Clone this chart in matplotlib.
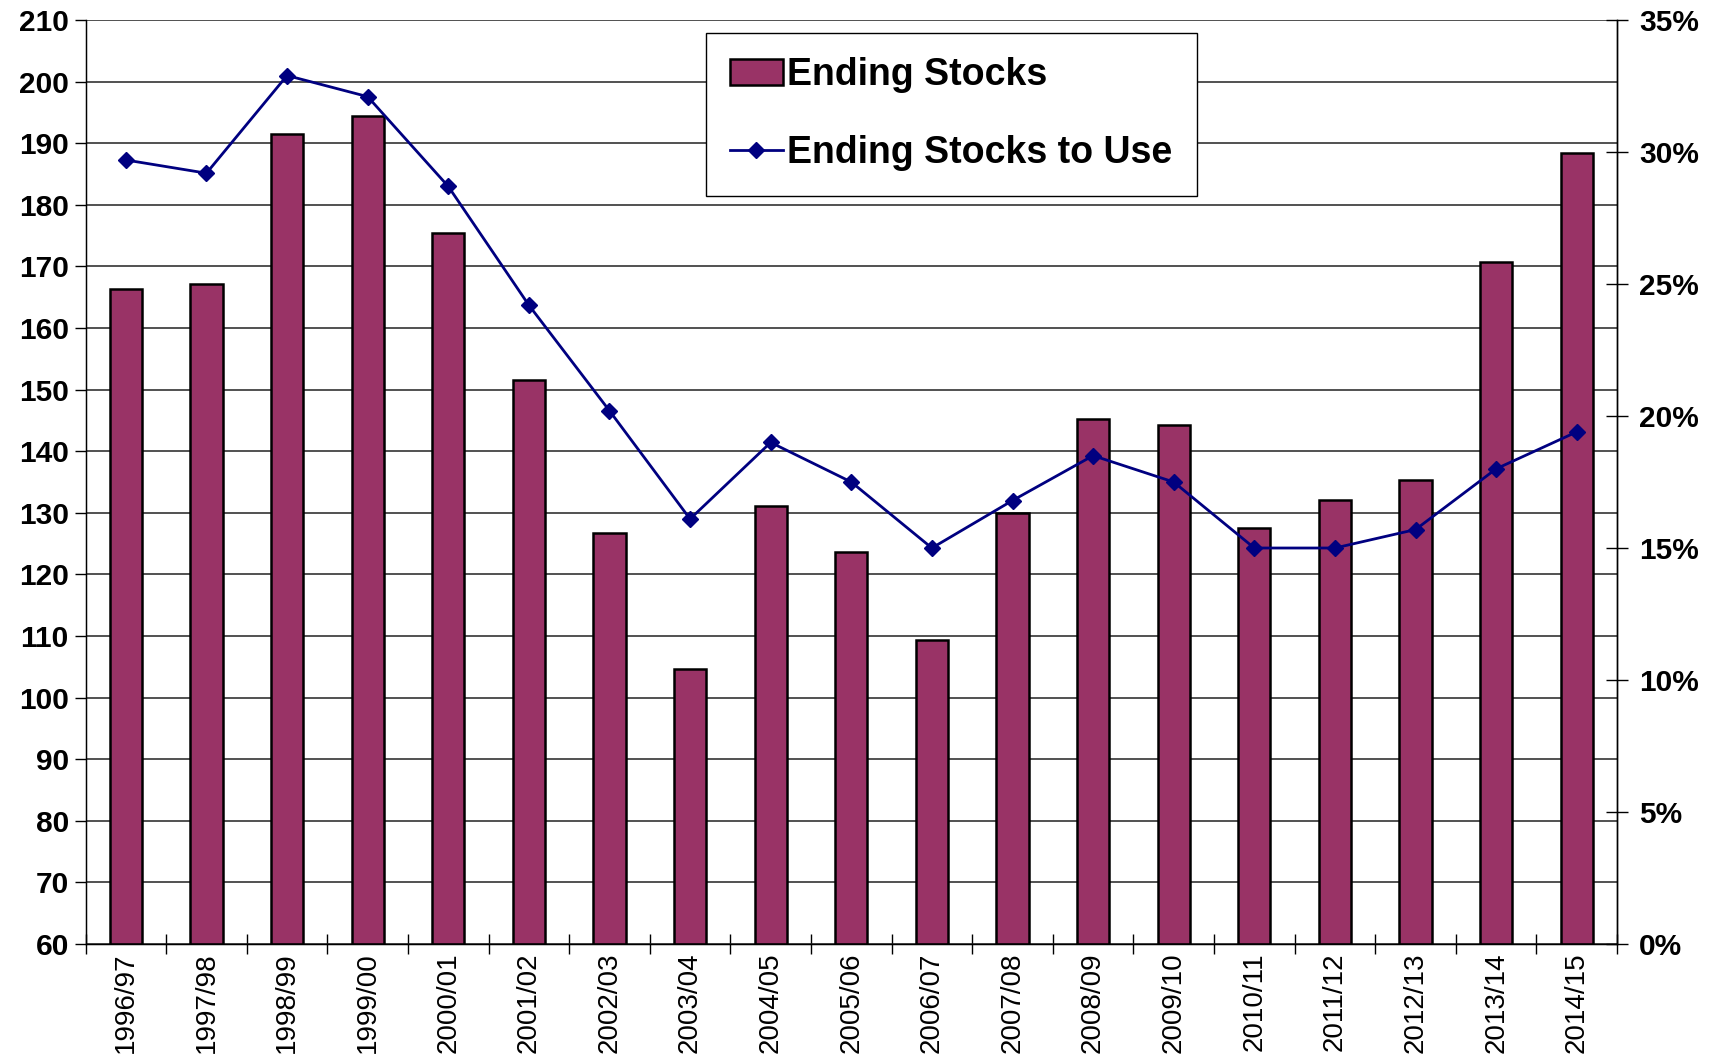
import matplotlib
matplotlib.use("Agg")
import matplotlib.pyplot as plt
import numpy as np
from matplotlib.patches import Patch
from matplotlib.lines import Line2D

plt.rcParams['font.family'] = ['Liberation Sans', 'DejaVu Sans']

years = ["1996/97", "1997/98", "1998/99", "1999/00", "2000/01", "2001/02", "2002/03",
         "2003/04", "2004/05", "2005/06", "2006/07", "2007/08", "2008/09", "2009/10",
         "2010/11", "2011/12", "2012/13", "2013/14", "2014/15"]
ending_stocks = [166.4, 167.2, 191.5, 194.5, 175.4, 151.6, 126.8, 104.7, 131.1, 123.6,
                 109.3, 130.0, 145.3, 144.3, 127.5, 132.1, 135.4, 170.8, 188.4]
stocks_to_use = [29.7, 29.2, 32.9, 32.1, 28.7, 24.2, 20.2, 16.1, 19.0, 17.5,
                 15.0, 16.8, 18.5, 17.5, 15.0, 15.0, 15.7, 18.0, 19.4]
left_ticks = list(range(60, 211, 10))
right_ticks = list(range(0, 36, 5))

fig = plt.figure(figsize=(17.21, 10.58), dpi=100)
ax = fig.add_axes([0.0497, 0.1078, 0.8899, 0.8732])
x = np.arange(len(years))

ax.bar(x, [v - 60 for v in ending_stocks], bottom=60, width=0.4, color="#993366",
       edgecolor="black", linewidth=1.8, zorder=2)
ax.set_ylim(60, 210)
ax.set_xlim(-0.5, len(years) - 0.5)
ax.set_yticks(left_ticks)
ax.set_yticklabels([str(t) for t in left_ticks], fontsize=21.5, fontweight="bold")
ax.yaxis.grid(True, color="#222222", linewidth=1.1)
ax.set_axisbelow(True)
ax.tick_params(axis="y", direction="out", length=8, width=1, pad=4)

ax.set_xticks(x)
ax.set_xticklabels(years, rotation=90, fontsize=20)
ax.tick_params(axis="x", which="major", length=0, pad=6)
ax.set_xticks(np.arange(-0.5, len(years), 1.0), minor=True)
ax.tick_params(axis="x", which="minor", direction="inout", length=14, width=1)

ax.spines["top"].set_visible(False)
for s in ["left", "bottom", "right"]:
    ax.spines[s].set_linewidth(1.0)
    ax.spines[s].set_color("black")

ax2 = ax.twinx()
ax2.plot(x, stocks_to_use, color="#000080", linewidth=2, marker="D", markersize=8,
         zorder=3)
ax2.set_ylim(0, 35)
ax2.set_yticks(right_ticks)
ax2.set_yticklabels([f"{t}%" for t in right_ticks], fontsize=21.5, fontweight="bold")
ax2.tick_params(axis="y", direction="inout", length=16, width=1, pad=8)
ax2.spines["top"].set_visible(False)
ax2.spines["right"].set_linewidth(1.0)

handles = [Patch(facecolor="#993366", edgecolor="black", linewidth=1.8),
           Line2D([0], [0], color="#000080", linewidth=2, marker="D", markersize=8)]
leg = ax2.legend(handles, ["Ending Stocks", "Ending Stocks to Use"],
                 loc="upper left", bbox_to_anchor=(0.405, 0.986), borderaxespad=0,
                 prop={"size": 27, "weight": "bold"}, frameon=True, fancybox=False,
                 edgecolor="black", framealpha=1, handlelength=1.4,
                 handletextpad=0.12, labelspacing=1.12, borderpad=0.65)
leg.get_frame().set_linewidth(1.0)

fig.savefig("out.png", dpi=100)
